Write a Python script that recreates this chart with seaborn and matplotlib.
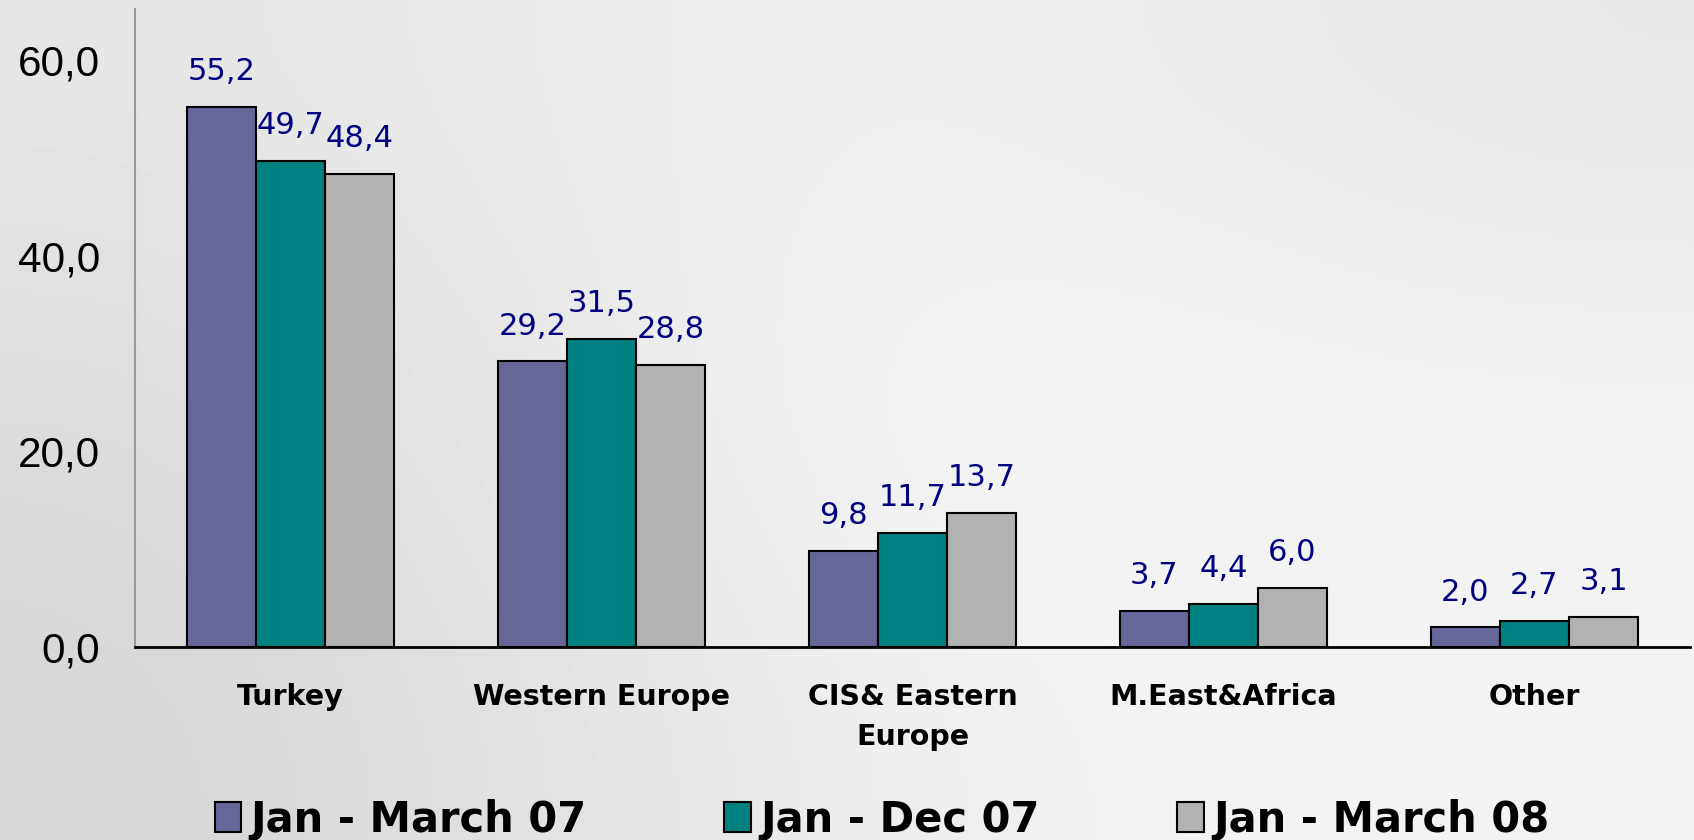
import numpy as np
import pandas as pd
import seaborn as sns
import matplotlib.pyplot as plt
from matplotlib.ticker import FuncFormatter

# Data
regions = ['Turkey', 'Western Europe', 'CIS& Eastern\nEurope', 'M.East&Africa', 'Other']
periods = ['Jan - March 07', 'Jan - Dec 07', 'Jan - March 08']
jan_mar_07 = [55.2, 29.2, 9.8, 3.7, 2.0]
jan_dec_07 = [49.7, 31.5, 11.7, 4.4, 2.7]
jan_mar_08 = [48.4, 28.8, 13.7, 6.0, 3.1]
colors = ['#666699', '#008080', '#b2b2b2']

df = pd.DataFrame({
    'region': regions * 3,
    'period': [p for p in periods for _ in regions],
    'value': jan_mar_07 + jan_dec_07 + jan_mar_08,
})

sns.set_style('white')
plt.rcParams['font.family'] = ['DejaVu Sans']
plt.rcParams['text.color'] = 'black'
plt.rcParams['xtick.labelcolor'] = 'black'
plt.rcParams['ytick.labelcolor'] = 'black'

fig = plt.figure(figsize=(16.94, 8.4), dpi=100)

# soft grey gradient background
bg = fig.add_axes([0, 0, 1, 1])
shade = np.array([[0.90, 0.95, 0.91],
                  [0.855, 0.97, 0.955],
                  [0.835, 0.94, 0.957]])
bg.imshow(shade, cmap='gray', vmin=0, vmax=1, interpolation='bicubic',
          aspect='auto', extent=[0, 1, 0, 1])
bg.axis('off')

ax = fig.add_axes([0.0797, 0.2298, 0.9179, 0.7592])
ax.set_facecolor('none')

sns.barplot(data=df, x='region', y='value', hue='period', palette=colors,
            width=0.667, gap=0, edgecolor='black', linewidth=1.5,
            saturation=1, ax=ax)

for cont in ax.containers:
    labs = [f'{b.get_height():.1f}'.replace('.', ',') for b in cont]
    ax.bar_label(cont, labels=labs, padding=15, fontsize=22, color='#000080')

handles, labels = ax.get_legend_handles_labels()
ax.get_legend().remove()

ax.set_ylim(0, 65.2)
ax.set_xlim(-0.5, 4.5)
ax.set_yticks([0, 20, 40, 60])
ax.yaxis.set_major_formatter(FuncFormatter(lambda v, p: f'{v:.1f}'.replace('.', ',')))
ax.tick_params(axis='y', direction='out', length=11, width=1.5, color='#999999',
               labelsize=30.5, pad=14, labelcolor='black')
for t in ax.get_yticklabels():
    t.set_family('Liberation Sans')

ax.set_xticks(np.arange(-0.5, 5, 1))
ax.set_xticklabels([])
ax.set_xticks(range(5), minor=True)
ax.set_xticklabels(regions, minor=True, fontsize=20.5, fontweight='bold',
                   linespacing=1.55, color='black')
ax.tick_params(axis='x', which='major', direction='out', length=7, width=1.5, color='black')
ax.tick_params(axis='x', which='minor', length=0, pad=26)

ax.set_xlabel('')
ax.set_ylabel('')
sns.despine(ax=ax)
ax.spines['left'].set_color('#999999')
ax.spines['left'].set_linewidth(1.5)
ax.spines['bottom'].set_color('black')
ax.spines['bottom'].set_linewidth(2)

leg = fig.legend(handles, labels, loc='center', bbox_to_anchor=(0.5207, 0.024), ncol=3,
                 frameon=False, prop={'size': 30, 'weight': 'bold'},
                 handlelength=0.64, handleheight=0.73, handletextpad=0.22,
                 columnspacing=3.3)
for t in leg.get_texts():
    t.set_color('black')

plt.savefig('out.png', dpi=100)
